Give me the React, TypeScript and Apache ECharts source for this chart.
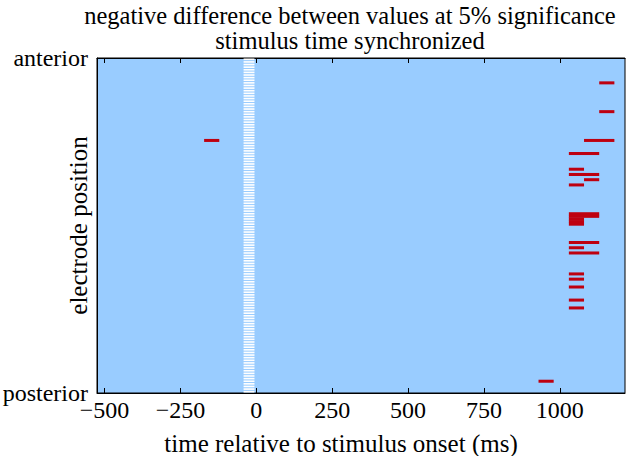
import React, { useEffect, useRef } from "react";
import * as echarts from "echarts";

// time axis (ms)
const xMin = -525;
const xMax = 1215;
const xTicks = [-500, -250, 0, 250, 500, 750, 1000];
const rowCount = 128;
const yLabels = ["anterior", "posterior"];

// masked (white) stripe in time
const maskStart = -42;
const maskEnd = -6;

// significant negative differences: electrode row, start (ms), end (ms)
const sigRows = [9, 20, 31, 31, 36, 42, 44, 46, 48, 59, 60, 61, 62, 63, 70, 72, 74, 82, 84, 87, 92, 95, 123];
const sigStart = [1130, 1130, 1080, -172, 1030, 1030, 1030, 1080, 1030, 1030, 1030, 1030, 1030, 1030, 1030, 1030, 1030, 1030, 1030, 1030, 1030, 1030, 930];
const sigEnd = [1180, 1180, 1180, -122, 1130, 1080, 1130, 1130, 1080, 1130, 1130, 1080, 1080, 1080, 1130, 1080, 1130, 1080, 1080, 1080, 1080, 1080, 980];

const FONT = "Liberation Serif";

export default function App() {
  const ref = useRef<HTMLDivElement>(null);
  useEffect(() => {
    document.body.style.margin = "0";
    const chart = echarts.init(ref.current!, null, { renderer: "svg" });
    const maskData: number[][] = [];
    for (let r = 0; r < rowCount; r++) maskData.push([maskStart, maskEnd, r]);
    const sigData = sigRows.map((r, i) => [sigStart[i], sigEnd[i], r]);

    const renderRect = (shrink: number, color: string) => (params: any, api: any) => {
      const x0 = api.value(0);
      const x1 = api.value(1);
      const r = api.value(2);
      const p0 = api.coord([x0, r]);
      const p1 = api.coord([x1, r + 1]);
      const h = p1[1] - p0[1];
      return {
        type: "rect",
        shape: { x: p0[0], y: p0[1] + shrink / 2, width: p1[0] - p0[0], height: h - shrink },
        style: { fill: color },
      };
    };

    chart.setOption({
      animation: false,
      title: [
        {
          text: "negative difference between values at 5% significance\nstimulus time synchronized",
          left: 345,
          top: -2,
          textAlign: "center",
          textStyle: { fontFamily: FONT, fontSize: 24.5, fontWeight: "normal", color: "#000", lineHeight: 25 },
        },
        {
          text: "time relative to stimulus onset (ms)",
          left: 336,
          top: 426,
          textAlign: "center",
          textStyle: { fontFamily: FONT, fontSize: 25, fontWeight: "normal", color: "#000" },
        },
      ],
      grid: {
        left: 97,
        right: 8,
        top: 58,
        bottom: 63,
        show: true,
        backgroundColor: "#99CCFF",
        borderColor: "#000",
        borderWidth: 1,
        outerBoundsMode: "none",
        containLabel: false,
      },
      xAxis: [
        {
          type: "value",
          min: xMin,
          max: xMax,
          position: "bottom",
          splitLine: { show: false },
          axisLine: { show: true, onZero: false, lineStyle: { color: "#000", width: 1 } },
          axisTick: { show: true, inside: true, length: 5, lineStyle: { color: "#000" }, customValues: xTicks },
          axisLabel: {
            customValues: xTicks,
            formatter: (v: number) => (v < 0 ? "\u2212" + Math.abs(v) : String(v)),
            fontFamily: FONT,
            fontSize: 24,
            color: "#000",
            margin: 5,
          },
        },
        {
          type: "value",
          min: xMin,
          max: xMax,
          position: "top",
          splitLine: { show: false },
          axisLine: { show: true, onZero: false, lineStyle: { color: "#000", width: 1 } },
          axisTick: { show: true, inside: true, length: 5, lineStyle: { color: "#000" }, customValues: xTicks },
          axisLabel: { show: false },
        },
      ],
      yAxis: {
        type: "value",
        min: 0,
        max: rowCount,
        interval: rowCount,
        inverse: true,
        splitLine: { show: false },
        axisLine: { show: true, onZero: false, lineStyle: { color: "#000" } },
        axisTick: { show: false },
        axisLabel: {
          formatter: (v: number) => (v === 0 ? yLabels[0] : yLabels[1]),
          fontFamily: FONT,
          fontSize: 24,
          color: "#000",
          margin: 9,
        },
        name: "electrode position",
        nameLocation: "middle",
        nameGap: 6,
        nameMoveOverlap: false,
        nameTextStyle: { fontFamily: FONT, fontSize: 25, color: "#000" },
      },
      series: [
        {
          type: "custom",
          renderItem: renderRect(1.0, "#FFFFFF"),
          data: maskData,
          encode: { x: [0, 1], y: 2 },
          silent: true,
        },
        {
          type: "custom",
          renderItem: renderRect(-0.4, "#BE0010"),
          data: sigData,
          encode: { x: [0, 1], y: 2 },
          silent: true,
        },
      ],
    });
    return () => chart.dispose();
  }, []);
  return <div ref={ref} style={{ width: 633, height: 456 }} />;
}
